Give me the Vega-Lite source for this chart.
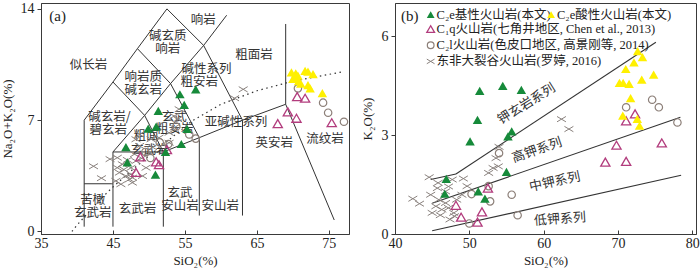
{
  "$schema": "https://vega.github.io/schema/vega-lite/v6.json",
  "padding": {"left": 0, "top": 1, "right": 0, "bottom": 2},
  "bounds": "flush",
  "spacing": 46,
  "config": {
    "view": {"stroke": "#3a3a3a", "strokeWidth": 1},
    "axis": {"grid": false, "domainColor": "#3a3a3a", "tickColor": "#3a3a3a", "labelFont": "Liberation Serif", "labelFontSize": 14, "labelColor": "#222", "titleFont": "Liberation Serif", "titleFontSize": 13, "titleFontWeight": "normal", "titleColor": "#222", "labelFlush": false, "labelOverlap": false},
    "text": {"font": "Liberation Serif, Noto Sans CJK SC", "color": "#333"}
  },
  "datasets": {
    "a_bounds": [
      {"x": 41, "y": 0.3, "x2": 41, "y2": 7},
      {"x": 41, "y": 7, "x2": 45, "y2": 9.4},
      {"x": 45, "y": 9.4, "x2": 48.4, "y2": 11.5},
      {"x": 48.4, "y": 11.5, "x2": 52.5, "y2": 14},
      {"x": 52.5, "y": 14, "x2": 57.6, "y2": 11.7},
      {"x": 57.6, "y": 11.7, "x2": 60.8, "y2": 13.6},
      {"x": 57.6, "y": 11.7, "x2": 63, "y2": 7},
      {"x": 63, "y": 1.0, "x2": 63, "y2": 7},
      {"x": 52, "y": 5, "x2": 57, "y2": 5.9},
      {"x": 57, "y": 5.9, "x2": 63, "y2": 7},
      {"x": 63, "y": 7, "x2": 69, "y2": 8},
      {"x": 69, "y": 8, "x2": 69, "y2": 13.05},
      {"x": 69, "y": 8, "x2": 75.75, "y2": 0.72},
      {"x": 41, "y": 3, "x2": 45, "y2": 3},
      {"x": 45, "y": 0.3, "x2": 45, "y2": 5},
      {"x": 45, "y": 5, "x2": 52, "y2": 5},
      {"x": 52, "y": 0.3, "x2": 52, "y2": 5},
      {"x": 57, "y": 1.0, "x2": 57, "y2": 5.9},
      {"x": 45, "y": 5, "x2": 49.4, "y2": 7.3},
      {"x": 49.4, "y": 7.3, "x2": 53, "y2": 9.3},
      {"x": 53, "y": 9.3, "x2": 57.6, "y2": 11.7},
      {"x": 49.4, "y": 7.3, "x2": 52, "y2": 5},
      {"x": 53, "y": 9.3, "x2": 57, "y2": 5.9},
      {"x": 45, "y": 9.4, "x2": 49.4, "y2": 7.3},
      {"x": 48.4, "y": 11.5, "x2": 53, "y2": 9.3}
    ],
    "a_dotted": [
      {"i": 1, "x": 39.3, "y": 0},
      {"i": 2, "x": 40, "y": 0.4},
      {"i": 3, "x": 43.2, "y": 2},
      {"i": 4, "x": 45, "y": 2.8},
      {"i": 5, "x": 48, "y": 4},
      {"i": 6, "x": 50, "y": 4.75},
      {"i": 7, "x": 53.7, "y": 6.1},
      {"i": 8, "x": 56, "y": 6.95},
      {"i": 9, "x": 60, "y": 8},
      {"i": 10, "x": 65, "y": 8.85},
      {"i": 11, "x": 70, "y": 9.45},
      {"i": 12, "x": 77, "y": 10.05}
    ],
    "a_labels": [
      {"x": 57.55, "y": 13.3, "t": "响岩"},
      {"x": 52.6, "y": 12.3, "t": "碱玄质"},
      {"x": 52.6, "y": 11.46, "t": "响岩"},
      {"x": 41.6, "y": 10.5, "t": "似长岩"},
      {"x": 64.6, "y": 11.1, "t": "粗面岩"},
      {"x": 58.0, "y": 10.25, "t": "碱性系列"},
      {"x": 57.0, "y": 9.43, "t": "粗安岩"},
      {"x": 49.2, "y": 9.7, "t": "响岩质"},
      {"x": 49.2, "y": 8.87, "t": "碱玄岩"},
      {"x": 44.5, "y": 7.22, "t": "碱玄岩/"},
      {"x": 44.35, "y": 6.4, "t": "碧玄岩"},
      {"x": 53.5, "y": 7.22, "t": "玄武"},
      {"x": 53.6, "y": 6.42, "t": "粗安岩"},
      {"x": 49.6, "y": 5.98, "t": "粗面"},
      {"x": 50.1, "y": 5.15, "t": "玄武岩"},
      {"x": 62.1, "y": 6.89, "t": "亚碱性系列"},
      {"x": 67.4, "y": 5.59, "t": "英安岩"},
      {"x": 74.45, "y": 5.8, "t": "流纹岩"},
      {"x": 42.2, "y": 2.0, "t": "苦橄"},
      {"x": 42.2, "y": 1.17, "t": "玄武岩"},
      {"x": 48.4, "y": 1.4, "t": "玄武岩"},
      {"x": 54.3, "y": 2.41, "t": "玄武"},
      {"x": 54.3, "y": 1.58, "t": "安山岩"},
      {"x": 59.9, "y": 1.58, "t": "安山岩"}
    ],
    "a_pts": [
      {"s": "basic", "x": 56.5, "y": 8.94}, {"s": "basic", "x": 54.3, "y": 8.63}, {"s": "basic", "x": 54.9, "y": 7.96},
      {"s": "basic", "x": 51.3, "y": 7.58}, {"s": "basic", "x": 49.9, "y": 6.47}, {"s": "basic", "x": 51.0, "y": 6.59},
      {"s": "basic", "x": 55.3, "y": 6.45}, {"s": "basic", "x": 54.5, "y": 5.5}, {"s": "basic", "x": 46.8, "y": 5.3},
      {"s": "basic", "x": 52.3, "y": 5.0}, {"s": "basic", "x": 47.0, "y": 4.35}, {"s": "basic", "x": 50.9, "y": 3.58},
      {"s": "acid", "x": 69.8, "y": 10.0}, {"s": "acid", "x": 70.4, "y": 9.95}, {"s": "acid", "x": 70.7, "y": 9.8},
      {"s": "acid", "x": 71.7, "y": 10.1}, {"s": "acid", "x": 72.1, "y": 10.05}, {"s": "acid", "x": 72.8, "y": 9.9},
      {"s": "acid", "x": 70.0, "y": 9.6}, {"s": "acid", "x": 70.8, "y": 9.45}, {"s": "acid", "x": 71.1, "y": 9.3},
      {"s": "acid", "x": 72.1, "y": 9.2}, {"s": "acid", "x": 72.4, "y": 9.0}, {"s": "acid", "x": 74.1, "y": 8.7},
      {"s": "acid", "x": 70.4, "y": 9.7},
      {"s": "c1q", "x": 52.5, "y": 5.15}, {"s": "c1q", "x": 48.8, "y": 4.69}, {"s": "c1q", "x": 51.0, "y": 4.38},
      {"s": "c1q", "x": 51.4, "y": 4.2}, {"s": "c1q", "x": 48.2, "y": 3.72}, {"s": "c1q", "x": 70.6, "y": 8.48},
      {"s": "c1q", "x": 71.7, "y": 8.38}, {"s": "c1q", "x": 69.3, "y": 7.52}, {"s": "c1q", "x": 70.5, "y": 7.12},
      {"s": "c1q", "x": 67.9, "y": 6.78}, {"s": "c1q", "x": 75.4, "y": 6.84},
      {"s": "c2l", "x": 70.7, "y": 9.0}, {"s": "c2l", "x": 74.2, "y": 8.1}, {"s": "c2l", "x": 74.9, "y": 7.47},
      {"s": "c2l", "x": 77.1, "y": 6.9}, {"s": "c2l", "x": 55.6, "y": 6.1}, {"s": "c2l", "x": 56.5, "y": 5.84},
      {"s": "c2l", "x": 52.7, "y": 5.5}, {"s": "c2l", "x": 50.2, "y": 4.62}, {"s": "c2l", "x": 53.8, "y": 6.6},
      {"s": "c2l", "x": 51.5, "y": 5.6}, {"s": "c2l", "x": 49.5, "y": 5.0},
      {"s": "ear", "x": 42.3, "y": 4.1}, {"s": "ear", "x": 43.4, "y": 3.35}, {"s": "ear", "x": 44.6, "y": 4.55},
      {"s": "ear", "x": 45.6, "y": 4.64}, {"s": "ear", "x": 46.3, "y": 4.23}, {"s": "ear", "x": 45.9, "y": 3.7},
      {"s": "ear", "x": 46.8, "y": 3.49}, {"s": "ear", "x": 47.5, "y": 4.0}, {"s": "ear", "x": 47.7, "y": 3.38},
      {"s": "ear", "x": 48.2, "y": 4.43}, {"s": "ear", "x": 48.0, "y": 4.86}, {"s": "ear", "x": 45.4, "y": 3.18},
      {"s": "ear", "x": 48.2, "y": 5.8}, {"s": "ear", "x": 48.7, "y": 6.11}, {"s": "ear", "x": 50.3, "y": 5.8},
      {"s": "ear", "x": 51.4, "y": 5.9}, {"s": "ear", "x": 52.8, "y": 6.21}, {"s": "ear", "x": 53.5, "y": 6.53},
      {"s": "ear", "x": 54.0, "y": 7.06}, {"s": "ear", "x": 53.5, "y": 7.26}, {"s": "ear", "x": 54.2, "y": 7.69},
      {"s": "ear", "x": 52.8, "y": 5.58}, {"s": "ear", "x": 48.7, "y": 5.38}, {"s": "ear", "x": 47.3, "y": 3.28},
      {"s": "ear", "x": 46.1, "y": 2.97}, {"s": "ear", "x": 49.1, "y": 3.49}, {"s": "ear", "x": 49.6, "y": 4.01},
      {"s": "ear", "x": 45.6, "y": 4.01}, {"s": "ear", "x": 47.5, "y": 3.6}, {"s": "ear", "x": 47.7, "y": 3.07},
      {"s": "ear", "x": 61.9, "y": 8.38}, {"s": "ear", "x": 63.1, "y": 8.94}, {"s": "ear", "x": 46.5, "y": 3.9},
      {"s": "ear", "x": 47.0, "y": 4.5}, {"s": "ear", "x": 49.0, "y": 4.6}, {"s": "ear", "x": 50.5, "y": 5.3}
    ],
    "b_bounds": [
      {"x": 44.8, "y": 1.65, "x2": 48.2, "y2": 1.82},
      {"x": 48.2, "y": 1.82, "x2": 75.1, "y2": 5.81},
      {"x": 45.0, "y": 0.93, "x2": 78.4, "y2": 3.54},
      {"x": 45.0, "y": 0.1, "x2": 78.5, "y2": 1.78}
    ],
    "b_pts": [
      {"s": "basic", "x": 51.4, "y": 4.34}, {"s": "basic", "x": 54.5, "y": 4.49}, {"s": "basic", "x": 57.0, "y": 4.37},
      {"s": "basic", "x": 51.1, "y": 3.46}, {"s": "basic", "x": 50.1, "y": 2.81}, {"s": "basic", "x": 55.7, "y": 3.11},
      {"s": "basic", "x": 55.2, "y": 2.96}, {"s": "basic", "x": 55.0, "y": 1.88}, {"s": "basic", "x": 46.9, "y": 1.67},
      {"s": "basic", "x": 46.7, "y": 1.22}, {"s": "basic", "x": 51.2, "y": 1.29}, {"s": "basic", "x": 52.1, "y": 1.07},
      {"s": "acid", "x": 72.65, "y": 5.54}, {"s": "acid", "x": 73.3, "y": 5.36}, {"s": "acid", "x": 72.15, "y": 5.2},
      {"s": "acid", "x": 71.05, "y": 5.0}, {"s": "acid", "x": 74.8, "y": 4.83}, {"s": "acid", "x": 73.2, "y": 4.68},
      {"s": "acid", "x": 70.2, "y": 4.58}, {"s": "acid", "x": 70.7, "y": 4.58}, {"s": "acid", "x": 71.5, "y": 4.55},
      {"s": "acid", "x": 71.7, "y": 4.12}, {"s": "acid", "x": 70.65, "y": 3.59}, {"s": "acid", "x": 72.6, "y": 3.49},
      {"s": "acid", "x": 72.9, "y": 3.28},
      {"s": "c1q", "x": 68.3, "y": 2.18}, {"s": "c1q", "x": 69.8, "y": 2.69}, {"s": "c1q", "x": 71.1, "y": 2.2},
      {"s": "c1q", "x": 71.1, "y": 3.43}, {"s": "c1q", "x": 72.3, "y": 3.64}, {"s": "c1q", "x": 75.9, "y": 2.76},
      {"s": "c1q", "x": 52.5, "y": 1.39}, {"s": "c1q", "x": 48.2, "y": 0.87}, {"s": "c1q", "x": 48.9, "y": 0.51},
      {"s": "c1q", "x": 51.7, "y": 0.67}, {"s": "c1q", "x": 51.1, "y": 0.36},
      {"s": "c2l", "x": 71.1, "y": 3.84}, {"s": "c2l", "x": 74.6, "y": 4.07}, {"s": "c2l", "x": 75.5, "y": 3.84},
      {"s": "c2l", "x": 78.0, "y": 3.38}, {"s": "c2l", "x": 54.0, "y": 2.45}, {"s": "c2l", "x": 52.6, "y": 1.45},
      {"s": "c2l", "x": 50.3, "y": 1.21}, {"s": "c2l", "x": 52.8, "y": 0.99}, {"s": "c2l", "x": 55.7, "y": 1.19},
      {"s": "c2l", "x": 56.5, "y": 0.57}, {"s": "c2l", "x": 50.0, "y": 0.32},
      {"s": "ear", "x": 42.4, "y": 1.07}, {"s": "ear", "x": 43.3, "y": 0.92}, {"s": "ear", "x": 44.6, "y": 1.72},
      {"s": "ear", "x": 45.7, "y": 1.39}, {"s": "ear", "x": 45.8, "y": 1.55}, {"s": "ear", "x": 44.8, "y": 1.19},
      {"s": "ear", "x": 47.7, "y": 1.65}, {"s": "ear", "x": 46.8, "y": 0.94}, {"s": "ear", "x": 46.3, "y": 0.74},
      {"s": "ear", "x": 47.4, "y": 0.44}, {"s": "ear", "x": 48.0, "y": 0.54}, {"s": "ear", "x": 49.2, "y": 1.68},
      {"s": "ear", "x": 49.7, "y": 1.45}, {"s": "ear", "x": 49.0, "y": 1.19}, {"s": "ear", "x": 48.3, "y": 1.04},
      {"s": "ear", "x": 45.9, "y": 1.04}, {"s": "ear", "x": 45.5, "y": 0.84}, {"s": "ear", "x": 47.2, "y": 0.79},
      {"s": "ear", "x": 45.0, "y": 0.64}, {"s": "ear", "x": 46.1, "y": 0.57}, {"s": "ear", "x": 46.8, "y": 1.29},
      {"s": "ear", "x": 47.9, "y": 0.64}, {"s": "ear", "x": 52.6, "y": 1.85}, {"s": "ear", "x": 53.2, "y": 2.0},
      {"s": "ear", "x": 53.9, "y": 2.05}, {"s": "ear", "x": 54.0, "y": 2.64}, {"s": "ear", "x": 53.6, "y": 2.3},
      {"s": "ear", "x": 62.4, "y": 3.48}, {"s": "ear", "x": 63.4, "y": 3.18}, {"s": "ear", "x": 47.2, "y": 1.44}
    ],
    "b_legend": [
      {"x": 45.6, "y": 6.65, "t": "C₂e基性火山岩(本文)"},
      {"x": 61.8, "y": 6.65, "t": "C₂e酸性火山岩(本文)"},
      {"x": 45.6, "y": 6.21, "t": "C₁q火山岩(七角井地区, Chen et al., 2013)"},
      {"x": 45.6, "y": 5.72, "t": "C₂l火山岩(色皮口地区, 高景刚等, 2014)"},
      {"x": 45.6, "y": 5.23, "t": "东非大裂谷火山岩(罗婷, 2016)"}
    ]
  },
  "hconcat": [
    {
      "width": 308,
      "height": 231,
      "layer": [
        {
          "data": {"name": "a_bounds"},
          "mark": {"type": "rule", "color": "#333", "strokeWidth": 1},
          "encoding": {
            "x": {"field": "x", "type": "quantitative", "scale": {"domain": [35, 77.8], "nice": false, "zero": false},
                  "axis": {"title": "SiO₂(%)", "values": [35, 45, 55, 65, 75], "tickSize": -4, "labelPadding": 6, "titlePadding": 4}},
            "y": {"field": "y", "type": "quantitative", "scale": {"domain": [-0.16, 14.37], "nice": false, "zero": false},
                  "axis": {"title": "Na₂O+K₂O(%)", "values": [0, 7, 14], "tickSize": 4, "labelPadding": 3, "titlePadding": 6}},
            "x2": {"field": "x2"},
            "y2": {"field": "y2"}
          }
        },
        {
          "data": {"name": "a_dotted"},
          "mark": {"type": "line", "color": "#333", "strokeWidth": 1.2, "strokeDash": [1.5, 3.5]},
          "encoding": {
            "x": {"field": "x", "type": "quantitative"},
            "y": {"field": "y", "type": "quantitative"},
            "order": {"field": "i", "type": "quantitative"}
          }
        },
        {
          "data": {"name": "a_labels"},
          "mark": {"type": "text", "font": "Noto Sans CJK SC", "fontSize": 12.5, "color": "#333"},
          "encoding": {
            "x": {"field": "x", "type": "quantitative"},
            "y": {"field": "y", "type": "quantitative"},
            "text": {"field": "t"}
          }
        },
        {
          "data": {"values": [{"x": 36.15, "y": 13.55, "t": "(a)"}]},
          "mark": {"type": "text", "font": "Liberation Serif", "fontSize": 15, "align": "left", "color": "#222"},
          "encoding": {
            "x": {"field": "x", "type": "quantitative"},
            "y": {"field": "y", "type": "quantitative"},
            "text": {"field": "t"}
          }
        },
        {
          "data": {"name": "a_pts"},
          "transform": [{"filter": "datum.s === 'ear'"}],
          "mark": {"type": "point", "shape": "M-1,-0.6L1,0.6M-1,0.6L1,-0.6", "filled": false, "stroke": "#8a827e", "strokeWidth": 1, "size": 80, "opacity": 1},
          "encoding": {"x": {"field": "x", "type": "quantitative"}, "y": {"field": "y", "type": "quantitative"}}
        },
        {
          "data": {"name": "a_pts"},
          "transform": [{"filter": "datum.s === 'c2l'"}],
          "mark": {"type": "point", "shape": "circle", "filled": false, "stroke": "#8c7f78", "strokeWidth": 1.2, "size": 55, "opacity": 1},
          "encoding": {"x": {"field": "x", "type": "quantitative"}, "y": {"field": "y", "type": "quantitative"}}
        },
        {
          "data": {"name": "a_pts"},
          "transform": [{"filter": "datum.s === 'c1q'"}],
          "mark": {"type": "point", "shape": "triangle-up", "filled": false, "stroke": "#b23c7d", "strokeWidth": 1.3, "size": 85, "opacity": 1},
          "encoding": {"x": {"field": "x", "type": "quantitative"}, "y": {"field": "y", "type": "quantitative"}}
        },
        {
          "data": {"name": "a_pts"},
          "transform": [{"filter": "datum.s === 'basic'"}],
          "mark": {"type": "point", "shape": "triangle-up", "filled": true, "color": "#168a3a", "size": 90, "opacity": 1},
          "encoding": {"x": {"field": "x", "type": "quantitative"}, "y": {"field": "y", "type": "quantitative"}}
        },
        {
          "data": {"name": "a_pts"},
          "transform": [{"filter": "datum.s === 'acid'"}],
          "mark": {"type": "point", "shape": "triangle-up", "filled": true, "color": "#fff000", "size": 90, "opacity": 1},
          "encoding": {"x": {"field": "x", "type": "quantitative"}, "y": {"field": "y", "type": "quantitative"}}
        }
      ]
    },
    {
      "width": 301,
      "height": 231,
      "layer": [
        {
          "data": {"name": "b_bounds"},
          "mark": {"type": "rule", "color": "#333", "strokeWidth": 1.1},
          "encoding": {
            "x": {"field": "x", "type": "quantitative", "scale": {"domain": [40, 80.5], "nice": false, "zero": false},
                  "axis": {"title": "SiO₂(%)", "values": [40, 50, 60, 70, 80], "tickSize": -4, "labelPadding": 6, "titlePadding": 4}},
            "y": {"field": "y", "type": "quantitative", "scale": {"domain": [0, 7], "nice": false, "zero": false},
                  "axis": {"title": "K₂O(%)", "values": [0, 3, 6], "tickSize": 4, "labelPadding": 3, "titlePadding": 7}},
            "x2": {"field": "x2"},
            "y2": {"field": "y2"}
          }
        },
        {
          "data": {"values": [{"x": 57.7, "y": 3.94, "t": "钾玄岩系列"}]},
          "mark": {"type": "text", "font": "Noto Sans CJK SC", "fontSize": 13, "angle": 328, "color": "#333"},
          "encoding": {"x": {"field": "x", "type": "quantitative"}, "y": {"field": "y", "type": "quantitative"}, "text": {"field": "t"}}
        },
        {
          "data": {"values": [{"x": 59.1, "y": 2.54, "t": "高钾系列"}]},
          "mark": {"type": "text", "font": "Noto Sans CJK SC", "fontSize": 13, "angle": 341, "color": "#333"},
          "encoding": {"x": {"field": "x", "type": "quantitative"}, "y": {"field": "y", "type": "quantitative"}, "text": {"field": "t"}}
        },
        {
          "data": {"values": [{"x": 61.5, "y": 1.58, "t": "中钾系列"}]},
          "mark": {"type": "text", "font": "Noto Sans CJK SC", "fontSize": 13, "angle": 348, "color": "#333"},
          "encoding": {"x": {"field": "x", "type": "quantitative"}, "y": {"field": "y", "type": "quantitative"}, "text": {"field": "t"}}
        },
        {
          "data": {"values": [{"x": 62.2, "y": 0.45, "t": "低钾系列"}]},
          "mark": {"type": "text", "font": "Noto Sans CJK SC", "fontSize": 13, "angle": 356, "color": "#333"},
          "encoding": {"x": {"field": "x", "type": "quantitative"}, "y": {"field": "y", "type": "quantitative"}, "text": {"field": "t"}}
        },
        {
          "data": {"values": [{"x": 40.8, "y": 6.6, "t": "(b)"}]},
          "mark": {"type": "text", "font": "Liberation Serif", "fontSize": 15, "align": "left", "color": "#222"},
          "encoding": {"x": {"field": "x", "type": "quantitative"}, "y": {"field": "y", "type": "quantitative"}, "text": {"field": "t"}}
        },
        {
          "data": {"name": "b_legend"},
          "mark": {"type": "text", "fontSize": 12.5, "align": "left", "color": "#222"},
          "encoding": {"x": {"field": "x", "type": "quantitative"}, "y": {"field": "y", "type": "quantitative"}, "text": {"field": "t"}}
        },
        {
          "data": {"values": [{"x": 44.8, "y": 6.65}]},
          "mark": {"type": "point", "shape": "triangle-up", "filled": true, "color": "#168a3a", "size": 60, "opacity": 1},
          "encoding": {"x": {"field": "x", "type": "quantitative"}, "y": {"field": "y", "type": "quantitative"}}
        },
        {
          "data": {"values": [{"x": 61.0, "y": 6.65}]},
          "mark": {"type": "point", "shape": "triangle-up", "filled": true, "color": "#fff000", "size": 60, "opacity": 1},
          "encoding": {"x": {"field": "x", "type": "quantitative"}, "y": {"field": "y", "type": "quantitative"}}
        },
        {
          "data": {"values": [{"x": 44.8, "y": 6.21}]},
          "mark": {"type": "point", "shape": "triangle-up", "filled": false, "stroke": "#b23c7d", "strokeWidth": 1.3, "size": 60, "opacity": 1},
          "encoding": {"x": {"field": "x", "type": "quantitative"}, "y": {"field": "y", "type": "quantitative"}}
        },
        {
          "data": {"values": [{"x": 44.8, "y": 5.72}]},
          "mark": {"type": "point", "shape": "circle", "filled": false, "stroke": "#8c7f78", "strokeWidth": 1.2, "size": 45, "opacity": 1},
          "encoding": {"x": {"field": "x", "type": "quantitative"}, "y": {"field": "y", "type": "quantitative"}}
        },
        {
          "data": {"values": [{"x": 44.8, "y": 5.23}]},
          "mark": {"type": "point", "shape": "M-1,-0.6L1,0.6M-1,0.6L1,-0.6", "filled": false, "stroke": "#8a827e", "strokeWidth": 1, "size": 60, "opacity": 1},
          "encoding": {"x": {"field": "x", "type": "quantitative"}, "y": {"field": "y", "type": "quantitative"}}
        },
        {
          "data": {"name": "b_pts"},
          "transform": [{"filter": "datum.s === 'ear'"}],
          "mark": {"type": "point", "shape": "M-1,-0.6L1,0.6M-1,0.6L1,-0.6", "filled": false, "stroke": "#8a827e", "strokeWidth": 1, "size": 80, "opacity": 1},
          "encoding": {"x": {"field": "x", "type": "quantitative"}, "y": {"field": "y", "type": "quantitative"}}
        },
        {
          "data": {"name": "b_pts"},
          "transform": [{"filter": "datum.s === 'c2l'"}],
          "mark": {"type": "point", "shape": "circle", "filled": false, "stroke": "#8c7f78", "strokeWidth": 1.2, "size": 55, "opacity": 1},
          "encoding": {"x": {"field": "x", "type": "quantitative"}, "y": {"field": "y", "type": "quantitative"}}
        },
        {
          "data": {"name": "b_pts"},
          "transform": [{"filter": "datum.s === 'c1q'"}],
          "mark": {"type": "point", "shape": "triangle-up", "filled": false, "stroke": "#b23c7d", "strokeWidth": 1.3, "size": 85, "opacity": 1},
          "encoding": {"x": {"field": "x", "type": "quantitative"}, "y": {"field": "y", "type": "quantitative"}}
        },
        {
          "data": {"name": "b_pts"},
          "transform": [{"filter": "datum.s === 'basic'"}],
          "mark": {"type": "point", "shape": "triangle-up", "filled": true, "color": "#168a3a", "size": 90, "opacity": 1},
          "encoding": {"x": {"field": "x", "type": "quantitative"}, "y": {"field": "y", "type": "quantitative"}}
        },
        {
          "data": {"name": "b_pts"},
          "transform": [{"filter": "datum.s === 'acid'"}],
          "mark": {"type": "point", "shape": "triangle-up", "filled": true, "color": "#fff000", "size": 90, "opacity": 1},
          "encoding": {"x": {"field": "x", "type": "quantitative"}, "y": {"field": "y", "type": "quantitative"}}
        }
      ]
    }
  ]
}
